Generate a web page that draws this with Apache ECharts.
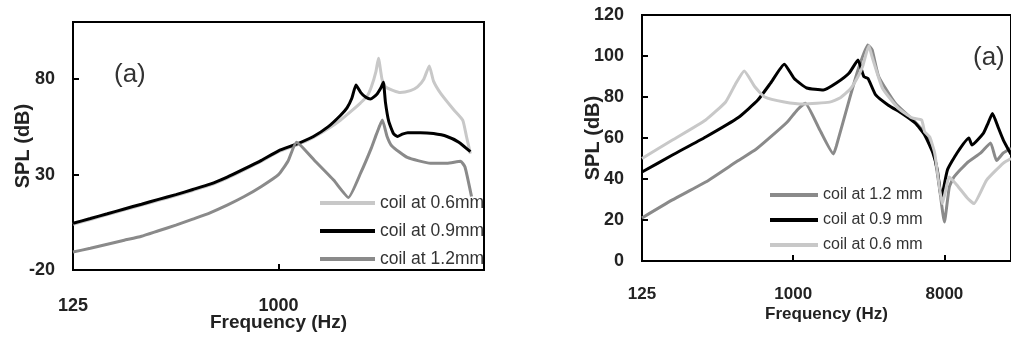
<!DOCTYPE html>
<html>
<head>
<meta charset="utf-8">
<script src="https://cdn.jsdelivr.net/npm/echarts@6/dist/echarts.min.js"></script>
<style>
  html, body { margin: 0; padding: 0; background: #fff; }
  #chart { width: 1011px; height: 338px; }
</style>
</head>
<body>
<div id="chart"></div>
<script>
// left panel (coil at 0.6 / 0.9 / 1.2 mm)
const leftFreq06 = [125, 149, 177, 210, 250, 297, 354, 420, 500, 595, 707, 841, 1000, 1200, 1424, 1650, 1870, 2100, 2290, 2450, 2560, 2680, 2750, 2850, 2950, 3200, 3430, 3800, 4080, 4350, 4600, 4800, 5160, 5890, 6450, 6700, 6970]
const leftSpl06 = [4, 6.5, 9, 11.5, 14, 16.5, 19, 21.7, 24.5, 28.2, 32.5, 37, 42, 45.5, 49.5, 54, 58.5, 63.5, 67.5, 71, 76, 84, 91, 80, 76, 74, 73, 74, 76, 80, 87, 79, 72.6, 64, 58.6, 50, 41]

const leftFreq09 = [125, 149, 177, 210, 250, 297, 354, 420, 500, 595, 707, 841, 1000, 1200, 1424, 1650, 1870, 2000, 2100, 2190, 2300, 2420, 2535, 2700, 2820, 2890, 2950, 3050, 3200, 3330, 3500, 3700, 4200, 4800, 5500, 6200, 6970]
const leftSpl09 = [4.5, 7, 9.5, 12, 14.5, 17, 19.5, 22.2, 25, 28.7, 33, 37.5, 42.5, 46, 50, 55, 61, 65, 70, 77, 73, 70.5, 69.6, 72, 75.5, 78.4, 68, 58, 51.5, 50, 51.2, 52, 52, 51.5, 50, 47, 42]

const leftFreq12 = [125, 149, 177, 210, 250, 297, 354, 420, 500, 595, 707, 841, 1000, 1100, 1200, 1450, 1750, 2030, 2300, 2560, 2700, 2860, 3000, 3150, 3680, 4660, 5500, 6310, 6600, 7050]
const leftSpl12 = [-10.6, -8.6, -6.5, -4.4, -2.3, 0.6, 3.5, 6.7, 10, 14, 18.5, 23.8, 30, 37, 47, 37, 27, 18, 31, 44, 51.5, 58.6, 50, 45, 39, 36, 36, 37, 34, 18.5]

// right panel
const rightFreq12 = [125, 190, 300, 470, 600, 733, 922, 1057, 1180, 1440, 1740, 1810, 2160, 2470, 2790, 2960, 3240, 4070, 5350, 6360, 7000, 7470, 8000, 8560, 9130, 10900, 13200, 15100, 16400, 18000, 20000]
const rightSpl12 = [21, 29.8, 38.5, 49, 54.5, 60.5, 67.8, 73.7, 77, 64, 52.2, 56, 78.5, 94.6, 105.4, 103, 90, 77, 67.8, 60.5, 50.7, 36, 19, 36, 41, 47.8, 52.7, 57.6, 49, 52.7, 55]

const rightFreq09 = [125, 190, 300, 470, 615, 733, 885, 1014, 1205, 1515, 1810, 2160, 2440, 2640, 2800, 3110, 3700, 4470, 5350, 6100, 6810, 7260, 7680, 8340, 9520, 11200, 11700, 13700, 14600, 15500, 16800, 18000, 20000]
const rightSpl09 = [43.4, 51.7, 60.5, 70, 78.5, 86.8, 96, 89, 84.4, 83.4, 86.8, 91.7, 98, 90, 89, 81, 76, 72, 67.3, 61.5, 53, 44.4, 31, 44.4, 52.7, 60, 56.6, 62.4, 67.3, 72, 65, 59, 52]

const rightFreq06 = [125, 190, 300, 395, 450, 510, 590, 676, 885, 1160, 1650, 1900, 2200, 2440, 2600, 2830, 2960, 3410, 4230, 5130, 5850, 6100, 6540, 7000, 7470, 7780, 8560, 9520, 10900, 12000, 14300, 18000, 20000]
const rightSpl06 = [50, 59, 68.8, 77.6, 86, 92.7, 85, 80, 77.6, 76.6, 77.5, 79.5, 84, 90, 95, 105, 99.6, 84.4, 74.6, 69.8, 68.8, 63, 60.5, 52.7, 36, 28, 41, 37, 31, 28, 39.5, 47.8, 50]

const freqTicks = [125, 1000, 8000]
const leftYTicks = [-20, 30, 80]
const rightYTicks = [0, 20, 40, 60, 80, 100, 120]

const BASE = 125
const LIGHT = '#c8c8c8'
const BLACK = '#000000'
const MID = '#8a8a8a'
const FONT = "'Liberation Sans', Arial, sans-serif"

// frequency axis is octaves above 125 Hz
function toOct(f) {
  return Math.log2(f / BASE)
}
function pairs(freq, spl) {
  return freq.map(function (f, i) {
    return [toOct(f), spl[i]]
  })
}

function freqAxis(gridIndex, max, nameSize, labelSize, labelMargin, nameGap) {
  return {
    type: 'value',
    gridIndex: gridIndex,
    min: 0,
    max: max,
    interval: 3,
    name: 'Frequency (Hz)',
    nameLocation: 'middle',
    nameGap: nameGap,
    nameMoveOverlap: false,
    nameTextStyle: { fontFamily: FONT, fontWeight: 'bold', fontSize: nameSize, color: '#222' },
    axisLine: { show: true, onZero: false, lineStyle: { color: '#000', width: 2 } },
    axisTick: { show: true, inside: true, length: 6, lineStyle: { color: '#000', width: 2 } },
    axisLabel: {
      margin: labelMargin,
      showMaxLabel: false,
      fontFamily: FONT,
      fontWeight: 'bold',
      fontSize: labelSize,
      color: '#222',
      formatter: function (v) {
        const f = Math.round(BASE * Math.pow(2, v))
        return freqTicks.indexOf(f) >= 0 ? String(f) : ''
      },
    },
    splitLine: { show: false },
  }
}

function splAxis(gridIndex, min, max, interval, ticks, nameGap) {
  return {
    type: 'value',
    gridIndex: gridIndex,
    min: min,
    max: max,
    interval: interval,
    name: 'SPL (dB)',
    nameLocation: 'middle',
    nameGap: nameGap,
    nameMoveOverlap: false,
    nameTextStyle: { fontFamily: FONT, fontWeight: 'bold', fontSize: 20, color: '#222' },
    axisLine: { show: true, onZero: false, lineStyle: { color: '#000', width: 2 } },
    axisTick: { show: true, inside: true, length: 6, lineStyle: { color: '#000', width: 2 } },
    axisLabel: {
      margin: 18,
      fontFamily: FONT,
      fontWeight: 'bold',
      fontSize: 18,
      color: '#222',
      formatter: function (v) {
        return ticks.indexOf(v) >= 0 ? String(v) : ''
      },
    },
    splitLine: { show: false },
  }
}

function line(name, color, xi, data, width) {
  return {
    name: name,
    type: 'line',
    xAxisIndex: xi,
    yAxisIndex: xi,
    data: data,
    color: color,
    showSymbol: false,
    symbol: 'none',
    smooth: 0.15,
    lineStyle: { color: color, width: width },
    emphasis: { disabled: true },
  }
}

const chart = echarts.init(document.getElementById('chart'))
chart.setOption({
  animation: false,
  backgroundColor: '#fff',
  grid: [
    { left: 73, top: 22, width: 411, height: 248, show: true, borderColor: '#000', borderWidth: 2, backgroundColor: 'transparent' },
    { left: 642, top: 15, width: 376, height: 246, show: true, borderColor: '#000', borderWidth: 2, backgroundColor: 'transparent' },
  ],
  xAxis: [
    freqAxis(0, 6, 19, 18, 27, 43),
    freqAxis(1, toOct(20000), 17, 17, 25, 45),
  ],
  yAxis: [
    splAxis(0, -20, 110, 50, leftYTicks, 40),
    splAxis(1, 0, 120, 20, rightYTicks, 39),
  ],
  legend: [
    {
      orient: 'vertical',
      left: 315,
      top: 188,
      icon: 'rect',
      itemWidth: 55,
      itemHeight: 4,
      itemGap: 8,
      textStyle: { fontFamily: FONT, fontSize: 17.5, color: '#333', lineHeight: 20 },
      data: ['coil at 0.6mm', 'coil at 0.9mm', 'coil at 1.2mm'],
    },
    {
      orient: 'vertical',
      left: 765,
      top: 180,
      icon: 'rect',
      itemWidth: 48,
      itemHeight: 4,
      itemGap: 5,
      textStyle: { fontFamily: FONT, fontSize: 16, color: '#333', lineHeight: 20 },
      data: ['coil at 1.2 mm', 'coil at 0.9 mm', 'coil at 0.6 mm'],
    },
  ],
  graphic: [
    { type: 'text', left: 114, top: 62, style: { text: '(a)', font: '26px ' + FONT, fill: '#333' } },
    { type: 'text', left: 973, top: 45, style: { text: '(a)', font: '26px ' + FONT, fill: '#333' } },
  ],
  series: [
    line('coil at 0.6mm', LIGHT, 0, pairs(leftFreq06, leftSpl06), 3),
    line('coil at 0.9mm', BLACK, 0, pairs(leftFreq09, leftSpl09), 3),
    line('coil at 1.2mm', MID, 0, pairs(leftFreq12, leftSpl12), 3),
    line('coil at 1.2 mm', MID, 1, pairs(rightFreq12, rightSpl12), 3),
    line('coil at 0.9 mm', BLACK, 1, pairs(rightFreq09, rightSpl09), 3),
    line('coil at 0.6 mm', LIGHT, 1, pairs(rightFreq06, rightSpl06), 3),
  ],
})
</script>
</body>
</html>
